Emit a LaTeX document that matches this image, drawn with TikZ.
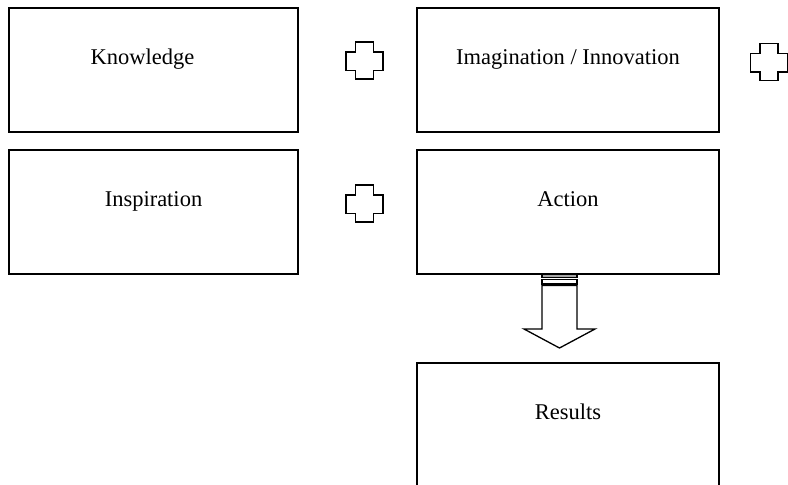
\documentclass[tikz,border=0pt]{standalone}
\usepackage{fontspec}
\setmainfont{Liberation Serif}
\begin{document}
\begin{tikzpicture}[x=1pt,y=-1pt,
  stage/.style={draw=black, line width=1.5pt, fill=white, inner sep=0pt},
  caption/.style={anchor=base, inner sep=0pt, font=\fontsize{22.5}{27}\selectfont},
  plusmark/.pic={
    \draw[line width=1.3pt, line join=miter]
      (-9,-18.5) -- (9,-18.5) -- (9,-8.5) -- (18.5,-8.5) -- (18.5,10) -- (9,10)
      -- (9,18.5) -- (-9,18.5) -- (-9,10) -- (-18.5,10) -- (-18.5,-8.5) -- (-9,-8.5) -- cycle;
  },
  shaft/.style={draw=black, line width=1.3pt, fill=white, line join=miter}
]
\clip (0,0) rectangle (788,485);

% stage boxes
\node[stage, minimum width=289pt, minimum height=124pt] (know) at (153.5,70) {};
\node[stage, minimum width=289pt, minimum height=124pt] (insp) at (153.5,212) {};
\node[stage, minimum width=302pt, minimum height=124pt] (imag) at (568,70) {};
\node[stage, minimum width=302pt, minimum height=124pt] (act)  at (568,212) {};
\node[stage, minimum width=302pt, minimum height=124pt] (res)  at (568,425) {};

% captions, set in the upper part of each box
\node[caption] (knowT) at ([xshift=-11pt,yshift=-57pt]know.north) {Knowledge};
\node[caption] (inspT) at ([yshift=-57pt]insp.north) {Inspiration};
\node[caption] (imagT) at ([yshift=-57pt]imag.north) {Imagination / Innovation};
\node[caption] (actT)  at ([yshift=-57pt]act.north)  {Action};
\node[caption] (resT)  at ([yshift=-57pt]res.north)  {Results};

% plus signs between the stages
\pic at (364.5,60.5) {plusmark};
\pic at (364.5,203.5) {plusmark};
\pic at (769,62) {plusmark};

% striped block arrow from Action down to Results
\fill[gray!70] (542,274) rectangle (577,277.5);
\draw[line width=1.1pt] (542,274) rectangle (577,277.5);
\draw[line width=1.1pt, fill=white] (542,279.5) rectangle (577,284);
\draw[shaft] (542,285.5) -- (542,329) -- (524,329) -- (559.5,348) -- (595,329)
  -- (577,329) -- (577,285.5) -- cycle;
\end{tikzpicture}
\end{document}
